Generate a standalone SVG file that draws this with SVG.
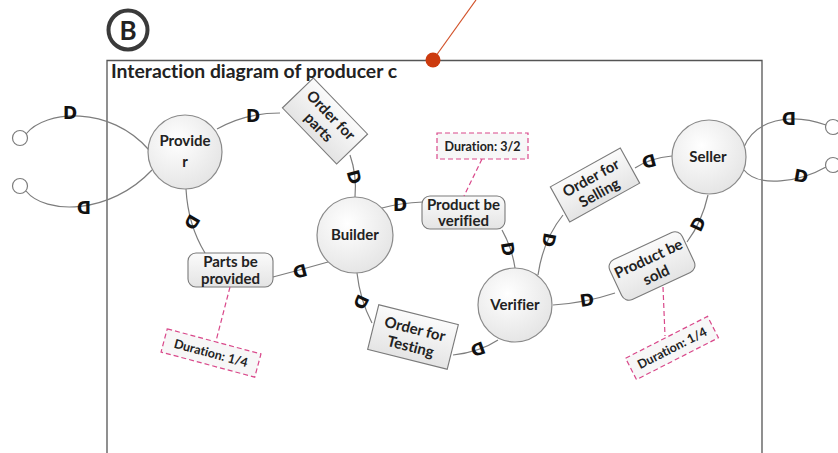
<svg xmlns="http://www.w3.org/2000/svg" width="838" height="453" viewBox="0 0 838 453">
  <defs>
    <radialGradient id="ballFill" cx="0.4" cy="0.35" r="0.75">
      <stop offset="0" stop-color="#ffffff"/>
      <stop offset="1" stop-color="#e2e2e2"/>
    </radialGradient>
    <linearGradient id="boxFill" x1="0" y1="0" x2="0" y2="1">
      <stop offset="0" stop-color="#fbfbfb"/>
      <stop offset="1" stop-color="#e4e4e4"/>
    </linearGradient>
    <style>
      text { font-family: Lato, "Open Sans", "Liberation Sans", sans-serif; font-weight: bold; fill: #222; font-variant-ligatures: none; }
      .role { fill: url(#ballFill); stroke: #8a8a8a; stroke-width: 1.2; }
      .lbl { font-size: 15px; text-anchor: middle; }
      .box { fill: url(#boxFill); stroke: #7a7a7a; stroke-width: 1.1; }
      .dur { fill: #f7f7f7; stroke: #d9488a; stroke-width: 1.2; stroke-dasharray: 5 3; }
      .durline { fill: none; stroke: #d9488a; stroke-width: 1.2; stroke-dasharray: 5 3; }
      .durtxt { font-size: 12.5px; text-anchor: middle; }
      .link { fill: none; stroke: #7d7d7d; stroke-width: 1.2; }
      .port { fill: #fff; stroke: #7d7d7d; stroke-width: 1.2; }
      .d { font-family: "DejaVu Sans", "Liberation Sans", sans-serif; font-size: 17px; font-weight: bold; fill: #111; text-anchor: middle; dominant-baseline: central; }
    </style>
  </defs>

  <rect width="838" height="453" fill="#ffffff"/>

  <!-- panel badge -->
  <g id="badge">
    <circle cx="128" cy="30" r="19.5" fill="#fff" stroke="#3a3a3a" stroke-width="4"/>
    <text x="128" y="39.5" font-size="26" text-anchor="middle" fill="#222">B</text>
  </g>

  <!-- frame -->
  <g id="frame">
    <path d="M107,453 V60.5 H762 V453" fill="none" stroke="#555" stroke-width="1.3"/>
    <text x="111" y="77.5" font-size="19" textLength="286" lengthAdjust="spacingAndGlyphs">Interaction diagram of producer c</text>
    <line x1="433" y1="60" x2="476" y2="0" stroke="#d2522a" stroke-width="1.2"/>
    <circle cx="433" cy="60" r="7.5" fill="#cc3a0e"/>
  </g>

  <!-- connectors -->
  <g id="connectors">
    <path class="link" d="M26,134 C45,110 110,105 149,150"/>
    <path class="link" d="M26,191 C45,215 110,215 152,170"/>
    <path class="link" d="M217,129 Q245,113 280,113"/>
    <path class="link" d="M350,155 Q357,175 355,197"/>
    <path class="link" d="M382,208 Q400,203 423,202"/>
    <path class="link" d="M502,230 Q512,248 515,268"/>
    <path class="link" d="M538,275 Q543,240 563,215"/>
    <path class="link" d="M635,168 Q650,158 672,156"/>
    <path class="link" d="M708,195 Q702,222 687,242"/>
    <path class="link" d="M615,293 Q585,303 553,305"/>
    <path class="link" d="M498,340 Q480,352 453,355"/>
    <path class="link" d="M372,323 Q360,300 357,273"/>
    <path class="link" d="M328,262 Q300,270 273,277"/>
    <path class="link" d="M205,253 Q188,225 186,189"/>
    <path class="link" d="M744,147 C755,120 790,112 826,125"/>
    <path class="link" d="M744,170 C758,188 800,182 826,167"/>
    <circle class="port" cx="20" cy="138" r="7.5"/>
    <circle class="port" cx="20" cy="186" r="7.5"/>
    <circle class="port" cx="833" cy="127" r="7.5"/>
    <circle class="port" cx="833" cy="165" r="7.5"/>
    <!-- delay marks -->
    <text class="d" transform="translate(70,113)">D</text>
    <text class="d" transform="translate(84,207) rotate(180)">D</text>
    <text class="d" transform="translate(253,116)">D</text>
    <text class="d" transform="translate(354,177) rotate(75)">D</text>
    <text class="d" transform="translate(400,205)">D</text>
    <text class="d" transform="translate(508,249) rotate(80)">D</text>
    <text class="d" transform="translate(549,240) rotate(100)">D</text>
    <text class="d" transform="translate(649,161) rotate(165)">D</text>
    <text class="d" transform="translate(698,224) rotate(-65)">D</text>
    <text class="d" transform="translate(587,300) rotate(-8)">D</text>
    <text class="d" transform="translate(478,349) rotate(160)">D</text>
    <text class="d" transform="translate(361,302) rotate(115)">D</text>
    <text class="d" transform="translate(300,271) rotate(165)">D</text>
    <text class="d" transform="translate(192,222) rotate(120)">D</text>
    <text class="d" transform="translate(789,118) rotate(180)">D</text>
    <text class="d" transform="translate(801,176) rotate(10)">D</text>
  </g>

  <!-- roles -->
  <g id="provider">
    <circle class="role" cx="185" cy="152" r="37"/>
    <text class="lbl" x="185" y="146">Provide</text>
    <text class="lbl" x="185" y="167">r</text>
  </g>
  <g id="builder">
    <circle class="role" cx="355" cy="235" r="38"/>
    <text class="lbl" x="355" y="240">Builder</text>
  </g>
  <g id="verifier">
    <circle class="role" cx="515" cy="305" r="37"/>
    <text class="lbl" x="515" y="310">Verifier</text>
  </g>
  <g id="seller">
    <circle class="role" cx="709" cy="157" r="37"/>
    <text class="lbl" x="708" y="162">Seller</text>
  </g>

  <!-- messages -->
  <g id="order-for-parts" transform="translate(325,121) rotate(46)">
    <rect class="box" x="-39" y="-21.5" width="78" height="43"/>
    <text class="lbl" x="0" y="-3">Order for</text>
    <text class="lbl" x="0" y="14">parts</text>
  </g>
  <g id="product-be-verified">
    <rect class="box" x="422" y="196" width="83" height="33" rx="8"/>
    <text class="lbl" x="463.5" y="209.5">Product be</text>
    <text class="lbl" x="463.5" y="226">verified</text>
  </g>
  <g id="parts-be-provided">
    <rect class="box" x="188" y="253" width="85" height="34" rx="8"/>
    <text class="lbl" x="230.5" y="267">Parts be</text>
    <text class="lbl" x="230.5" y="284">provided</text>
  </g>
  <g id="order-for-testing" transform="translate(413,337) rotate(14)">
    <rect class="box" x="-41" y="-23" width="82" height="46"/>
    <text class="lbl" x="0" y="-3">Order for</text>
    <text class="lbl" x="0" y="15">Testing</text>
  </g>
  <g id="order-for-selling" transform="translate(595,185) rotate(-29)">
    <rect class="box" x="-40" y="-20" width="80" height="40"/>
    <text class="lbl" x="0" y="-3">Order for</text>
    <text class="lbl" x="0" y="14">Selling</text>
  </g>
  <g id="product-be-sold" transform="translate(652,266) rotate(-25)">
    <rect class="box" x="-40" y="-22" width="80" height="44" rx="8"/>
    <text class="lbl" x="0" y="-3">Product be</text>
    <text class="lbl" x="0" y="15">sold</text>
  </g>

  <!-- durations -->
  <g id="duration-verified">
    <line class="durline" x1="482" y1="159" x2="464" y2="196"/>
    <rect class="dur" x="437" y="133" width="91" height="26"/>
    <text class="durtxt" x="482.5" y="150.5">Duration: 3/2</text>
  </g>
  <g id="duration-provided">
    <line class="durline" x1="230" y1="287" x2="216" y2="341"/>
    <g transform="translate(211,353) rotate(15)">
      <rect class="dur" x="-48.5" y="-12" width="97" height="24"/>
      <text class="durtxt" x="0" y="4.5">Duration: 1/4</text>
    </g>
  </g>
  <g id="duration-sold">
    <line class="durline" x1="663" y1="287" x2="665" y2="336"/>
    <g transform="translate(672,348) rotate(-27)">
      <rect class="dur" x="-46" y="-12" width="92" height="24"/>
      <text class="durtxt" x="0" y="4.5">Duration: 1/4</text>
    </g>
  </g>
</svg>
